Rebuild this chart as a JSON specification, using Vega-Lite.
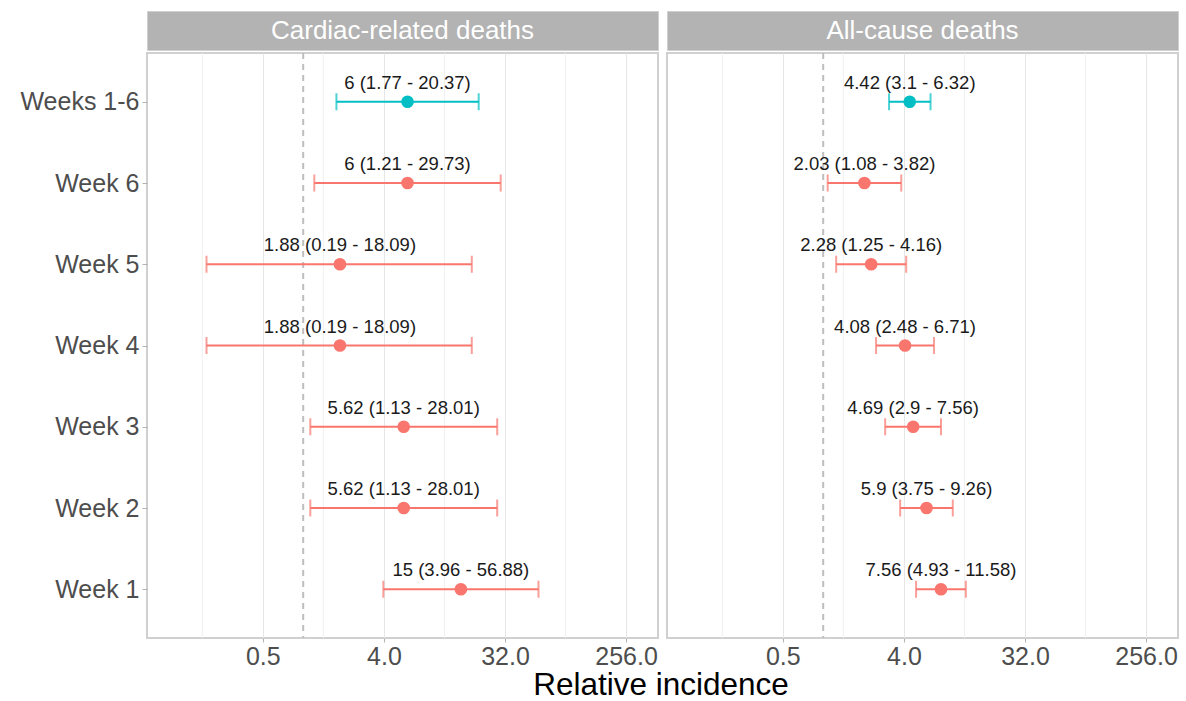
{
  "$schema": "https://vega.github.io/schema/vega-lite/v6.json",
  "padding": {"left": 18, "top": 10, "right": 5, "bottom": 0},
  "background": "white",
  "config": {
    "font": "Liberation Sans",
    "view": {"stroke": "#D0D0D0", "strokeWidth": 2},
    "axis": {"labelFont": "Liberation Sans"}
  },
  "title": {"text": "Relative incidence", "orient": "bottom", "anchor": "middle", "fontSize": 31.5, "fontWeight": "normal", "color": "black", "offset": 0, "dx": 62, "font": "Liberation Sans"},
  "datasets": {
    "cardiac": [
      {"week": "Weeks 1-6", "est": 6, "lo": 1.77, "hi": 20.37, "label": "6 (1.77 - 20.37)", "kind": "overall"},
      {"week": "Week 6", "est": 6, "lo": 1.21, "hi": 29.73, "label": "6 (1.21 - 29.73)", "kind": "weekly"},
      {"week": "Week 5", "est": 1.88, "lo": 0.19, "hi": 18.09, "label": "1.88 (0.19 - 18.09)", "kind": "weekly"},
      {"week": "Week 4", "est": 1.88, "lo": 0.19, "hi": 18.09, "label": "1.88 (0.19 - 18.09)", "kind": "weekly"},
      {"week": "Week 3", "est": 5.62, "lo": 1.13, "hi": 28.01, "label": "5.62 (1.13 - 28.01)", "kind": "weekly"},
      {"week": "Week 2", "est": 5.62, "lo": 1.13, "hi": 28.01, "label": "5.62 (1.13 - 28.01)", "kind": "weekly"},
      {"week": "Week 1", "est": 15, "lo": 3.96, "hi": 56.88, "label": "15 (3.96 - 56.88)", "kind": "weekly"}
    ],
    "allcause": [
      {"week": "Weeks 1-6", "est": 4.42, "lo": 3.1, "hi": 6.32, "label": "4.42 (3.1 - 6.32)", "kind": "overall"},
      {"week": "Week 6", "est": 2.03, "lo": 1.08, "hi": 3.82, "label": "2.03 (1.08 - 3.82)", "kind": "weekly"},
      {"week": "Week 5", "est": 2.28, "lo": 1.25, "hi": 4.16, "label": "2.28 (1.25 - 4.16)", "kind": "weekly"},
      {"week": "Week 4", "est": 4.08, "lo": 2.48, "hi": 6.71, "label": "4.08 (2.48 - 6.71)", "kind": "weekly"},
      {"week": "Week 3", "est": 4.69, "lo": 2.9, "hi": 7.56, "label": "4.69 (2.9 - 7.56)", "kind": "weekly"},
      {"week": "Week 2", "est": 5.9, "lo": 3.75, "hi": 9.26, "label": "5.9 (3.75 - 9.26)", "kind": "weekly"},
      {"week": "Week 1", "est": 7.56, "lo": 4.93, "hi": 11.58, "label": "7.56 (4.93 - 11.58)", "kind": "weekly"}
    ],
    "minor": [{"x": 0.1768}, {"x": 1.4142}, {"x": 11.3137}, {"x": 90.5097}],
    "ref": [{"x": 1}]
  },
  "spacing": 7,
  "hconcat": [
    {
      "spacing": 0,
      "vconcat": [
        {
          "width": 511, "height": 39,
          "data": {"values": [{"panel": "Cardiac-related deaths"}]},
          "view": {"fill": "#B3B3B3", "stroke": "#D0D0D0", "strokeWidth": 1},
          "mark": {"type": "text", "fontSize": 26, "color": "white", "font": "Liberation Sans"},
          "encoding": {"text": {"field": "panel"}}
        },
        {
          "width": 511, "height": 585,
          "data": {"name": "cardiac"},
          "layer": [
            {
              "data": {"name": "minor"},
              "mark": {"type": "rule", "color": "#F0F0F0", "strokeWidth": 1},
              "encoding": {"x": {"field": "x", "type": "quantitative", "title": null, "scale": {"type": "log", "base": 2, "domain": [0.0684, 443], "nice": false}, "axis": {"values": [0.5, 4, 32, 256], "format": ".1f", "grid": true, "gridColor": "#E6E6E6", "gridWidth": 1, "domain": false, "ticks": true, "tickColor": "#B3B3B3", "tickSize": 4, "labelFontSize": 25, "labelColor": "#4D4D4D", "labelPadding": 2, "labelFlush": false, "title": null}}}
            },
            {
              "data": {"name": "ref"},
              "mark": {"type": "rule", "color": "#BEBEBE", "strokeWidth": 2, "strokeDash": [6, 5]},
              "encoding": {"x": {"field": "x", "type": "quantitative", "title": null}}
            },
            {
              "mark": {"type": "rule", "strokeWidth": 2},
              "encoding": {
                "x": {"field": "lo", "type": "quantitative", "title": null},
                "x2": {"field": "hi"},
                "y": {"field": "week", "type": "nominal", "title": null, "scale": {"type": "point", "padding": 0.6, "domain": ["Weeks 1-6", "Week 6", "Week 5", "Week 4", "Week 3", "Week 2", "Week 1"]}, "axis": {"domain": false, "ticks": true, "tickColor": "#B3B3B3", "tickSize": 5, "labelFontSize": 25, "labelColor": "#4D4D4D", "labelPadding": 3, "grid": false, "title": null}},
                "color": {"field": "kind", "type": "nominal", "scale": {"domain": ["overall", "weekly"], "range": ["#00BFC4", "#F8766D"]}, "legend": null}
              }
            },
            {
              "mark": {"type": "tick", "thickness": 2, "size": 17, "orient": "vertical"},
              "encoding": {
                "x": {"field": "lo", "type": "quantitative", "title": null},
                "y": {"field": "week", "type": "nominal", "title": null},
                "color": {"field": "kind", "type": "nominal", "legend": null}
              }
            },
            {
              "mark": {"type": "tick", "thickness": 2, "size": 17, "orient": "vertical"},
              "encoding": {
                "x": {"field": "hi", "type": "quantitative", "title": null},
                "y": {"field": "week", "type": "nominal", "title": null},
                "color": {"field": "kind", "type": "nominal", "legend": null}
              }
            },
            {
              "mark": {"type": "point", "filled": true, "opacity": 1, "size": 160},
              "encoding": {
                "x": {"field": "est", "type": "quantitative", "title": null},
                "y": {"field": "week", "type": "nominal", "title": null},
                "color": {"field": "kind", "type": "nominal", "legend": null}
              }
            },
            {
              "mark": {"type": "text", "fontSize": 18.5, "color": "#1A1A1A", "dy": -19, "font": "Liberation Sans"},
              "encoding": {
                "x": {"field": "est", "type": "quantitative", "title": null},
                "y": {"field": "week", "type": "nominal", "title": null},
                "text": {"field": "label"}
              }
            }
          ]
        }
      ]
    },
    {
      "spacing": 0,
      "vconcat": [
        {
          "width": 511, "height": 39,
          "data": {"values": [{"panel": "All-cause deaths"}]},
          "view": {"fill": "#B3B3B3", "stroke": "#D0D0D0", "strokeWidth": 1},
          "mark": {"type": "text", "fontSize": 26, "color": "white", "font": "Liberation Sans"},
          "encoding": {"text": {"field": "panel"}}
        },
        {
          "width": 511, "height": 585,
          "data": {"name": "allcause"},
          "layer": [
            {
              "data": {"name": "minor"},
              "mark": {"type": "rule", "color": "#F0F0F0", "strokeWidth": 1},
              "encoding": {"x": {"field": "x", "type": "quantitative", "title": null, "scale": {"type": "log", "base": 2, "domain": [0.0684, 443], "nice": false}, "axis": {"values": [0.5, 4, 32, 256], "format": ".1f", "grid": true, "gridColor": "#E6E6E6", "gridWidth": 1, "domain": false, "ticks": true, "tickColor": "#B3B3B3", "tickSize": 4, "labelFontSize": 25, "labelColor": "#4D4D4D", "labelPadding": 2, "labelFlush": false, "title": null}}}
            },
            {
              "data": {"name": "ref"},
              "mark": {"type": "rule", "color": "#BEBEBE", "strokeWidth": 2, "strokeDash": [6, 5]},
              "encoding": {"x": {"field": "x", "type": "quantitative", "title": null}}
            },
            {
              "mark": {"type": "rule", "strokeWidth": 2},
              "encoding": {
                "x": {"field": "lo", "type": "quantitative", "title": null},
                "x2": {"field": "hi"},
                "y": {"field": "week", "type": "nominal", "title": null, "scale": {"type": "point", "padding": 0.6, "domain": ["Weeks 1-6", "Week 6", "Week 5", "Week 4", "Week 3", "Week 2", "Week 1"]}, "axis": null},
                "color": {"field": "kind", "type": "nominal", "scale": {"domain": ["overall", "weekly"], "range": ["#00BFC4", "#F8766D"]}, "legend": null}
              }
            },
            {
              "mark": {"type": "tick", "thickness": 2, "size": 17, "orient": "vertical"},
              "encoding": {
                "x": {"field": "lo", "type": "quantitative", "title": null},
                "y": {"field": "week", "type": "nominal", "title": null, "axis": null},
                "color": {"field": "kind", "type": "nominal", "legend": null}
              }
            },
            {
              "mark": {"type": "tick", "thickness": 2, "size": 17, "orient": "vertical"},
              "encoding": {
                "x": {"field": "hi", "type": "quantitative", "title": null},
                "y": {"field": "week", "type": "nominal", "title": null, "axis": null},
                "color": {"field": "kind", "type": "nominal", "legend": null}
              }
            },
            {
              "mark": {"type": "point", "filled": true, "opacity": 1, "size": 160},
              "encoding": {
                "x": {"field": "est", "type": "quantitative", "title": null},
                "y": {"field": "week", "type": "nominal", "title": null, "axis": null},
                "color": {"field": "kind", "type": "nominal", "legend": null}
              }
            },
            {
              "mark": {"type": "text", "fontSize": 18.5, "color": "#1A1A1A", "dy": -19, "font": "Liberation Sans"},
              "encoding": {
                "x": {"field": "est", "type": "quantitative", "title": null},
                "y": {"field": "week", "type": "nominal", "title": null, "axis": null},
                "text": {"field": "label"}
              }
            }
          ]
        }
      ]
    }
  ]
}
